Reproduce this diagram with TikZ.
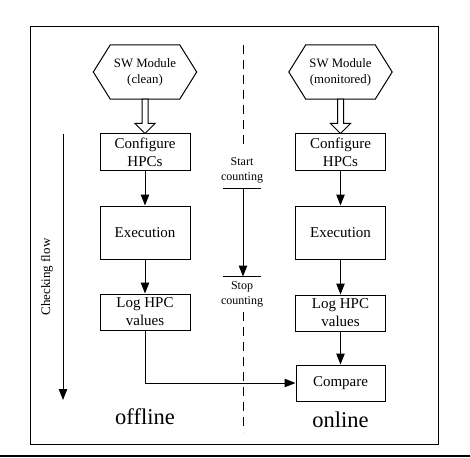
\documentclass[tikz,border=0pt]{standalone}
\usepackage{fontspec}
\setmainfont{Liberation Serif}
\usetikzlibrary{arrows.meta,calc}
\tikzset{
  box/.style={draw, line width=1pt, minimum width=90pt, align=center, inner sep=0pt, font=\fontsize{15}{18}\selectfont},
  hextext/.style={minimum width=103pt, minimum height=54pt, inner sep=0pt, align=center, font=\fontsize{12.8}{16}\selectfont},
  flow/.style={line width=1pt, -{Triangle[length=11pt,width=8.5pt]}},
  hexline/.style={draw, line width=1pt},
  midtext/.style={align=center, inner sep=0pt, font=\fontsize{12}{15}\selectfont},
  divider/.style={line width=1pt, dash pattern=on 9pt off 6pt},
}
\begin{document}
\begin{tikzpicture}[x=1pt,y=-1pt]
\useasboundingbox (0,0) rectangle (470,457);
% frame
\draw[line width=1pt] (30,27) rectangle (438,444);
\draw[line width=2pt] (0,455.8) -- (470,455.8);
% hexagons
\node[hextext] (hexL) at (145,72) {SW Module\\(clean)};
\node[hextext] (hexR) at (340.5,72) {SW Module\\(monitored)};
\foreach \h in {hexL,hexR}{
  \draw[hexline] (\h.west) -- ($(\h.north west)+(17,0)$) -- ($(\h.north east)+(-17,0)$) -- (\h.east)
     -- ($(\h.south east)+(-17,0)$) -- ($(\h.south west)+(17,0)$) -- cycle;
}
% boxes
\node[box, minimum height=36pt] (cfgL) at (145,152) {Configure\\HPCs};
\node[box, minimum height=53pt] (exeL) at (145,232.5) {Execution};
\node[box, minimum height=36pt] (logL) at (145,312) {Log HPC\\values};
\node[box, minimum height=36pt] (cfgR) at (340.5,152) {Configure\\HPCs};
\node[box, minimum height=53pt] (exeR) at (340.5,232.5) {Execution};
\node[box, minimum height=36pt] (logR) at (340.5,313) {Log HPC\\values};
\node[box, minimum height=36pt, minimum width=89pt] (cmp) at (340.5,383) {Compare};
% hollow arrows
\foreach \a/\b in {hexL/cfgL,hexR/cfgR}{
  \draw[line width=1pt, fill=white] ($(\a.south)+(-3,0)$) -- ($(\a.south)+(3,0)$) -- ($(\b.north)+(3,-10)$)
    -- ($(\b.north)+(10,-10)$) -- (\b.north) -- ($(\b.north)+(-10,-10)$) -- ($(\b.north)+(-3,-10)$) -- cycle;
}
% flow arrows
\draw[flow] (cfgL) -- (exeL);
\draw[flow] (exeL) -- (logL);
\draw[flow] (cfgR) -- (exeR);
\draw[flow] (exeR) -- (logR);
\draw[flow] (logR) -- (cmp);
\draw[flow] (logL.south) |- (cmp.west);
% checking flow
\coordinate (cfa) at (63,134);
\coordinate (cfb) at (63,400);
\draw[flow] (cfa) -- (cfb);
\node[rotate=90, inner sep=0pt, font=\fontsize{13}{15}\selectfont] (cflab) at (47,277) {Checking flow};
% middle
\coordinate (d1) at (243,45);
\coordinate (d2) at (243,148);
\draw[divider] (d1) -- (d2);
\node[midtext] (start) at (242,170) {Start\\counting};
\coordinate (sl1) at (223,188);
\coordinate (sr1) at (261,188);
\draw[line width=1pt] (sl1) -- (sr1);
\coordinate (s0) at (243,188);
\coordinate (s1) at (243,276.5);
\draw[flow] (s0) -- (s1);
\coordinate (sl2) at (223,276.5);
\coordinate (sr2) at (261,276.5);
\draw[line width=1pt] (sl2) -- (sr2);
\node[midtext] (stop) at (242,294) {Stop\\counting};
\coordinate (d3) at (243,312);
\coordinate (d4) at (243,432);
\draw[divider] (d3) -- (d4);
% labels
\node[font=\fontsize{22.5}{26}\selectfont, inner sep=0pt] (off) at (145,417) {offline};
\node[font=\fontsize{22.5}{26}\selectfont, inner sep=0pt] (on) at (340.5,420) {online};
\end{tikzpicture}
\end{document}
